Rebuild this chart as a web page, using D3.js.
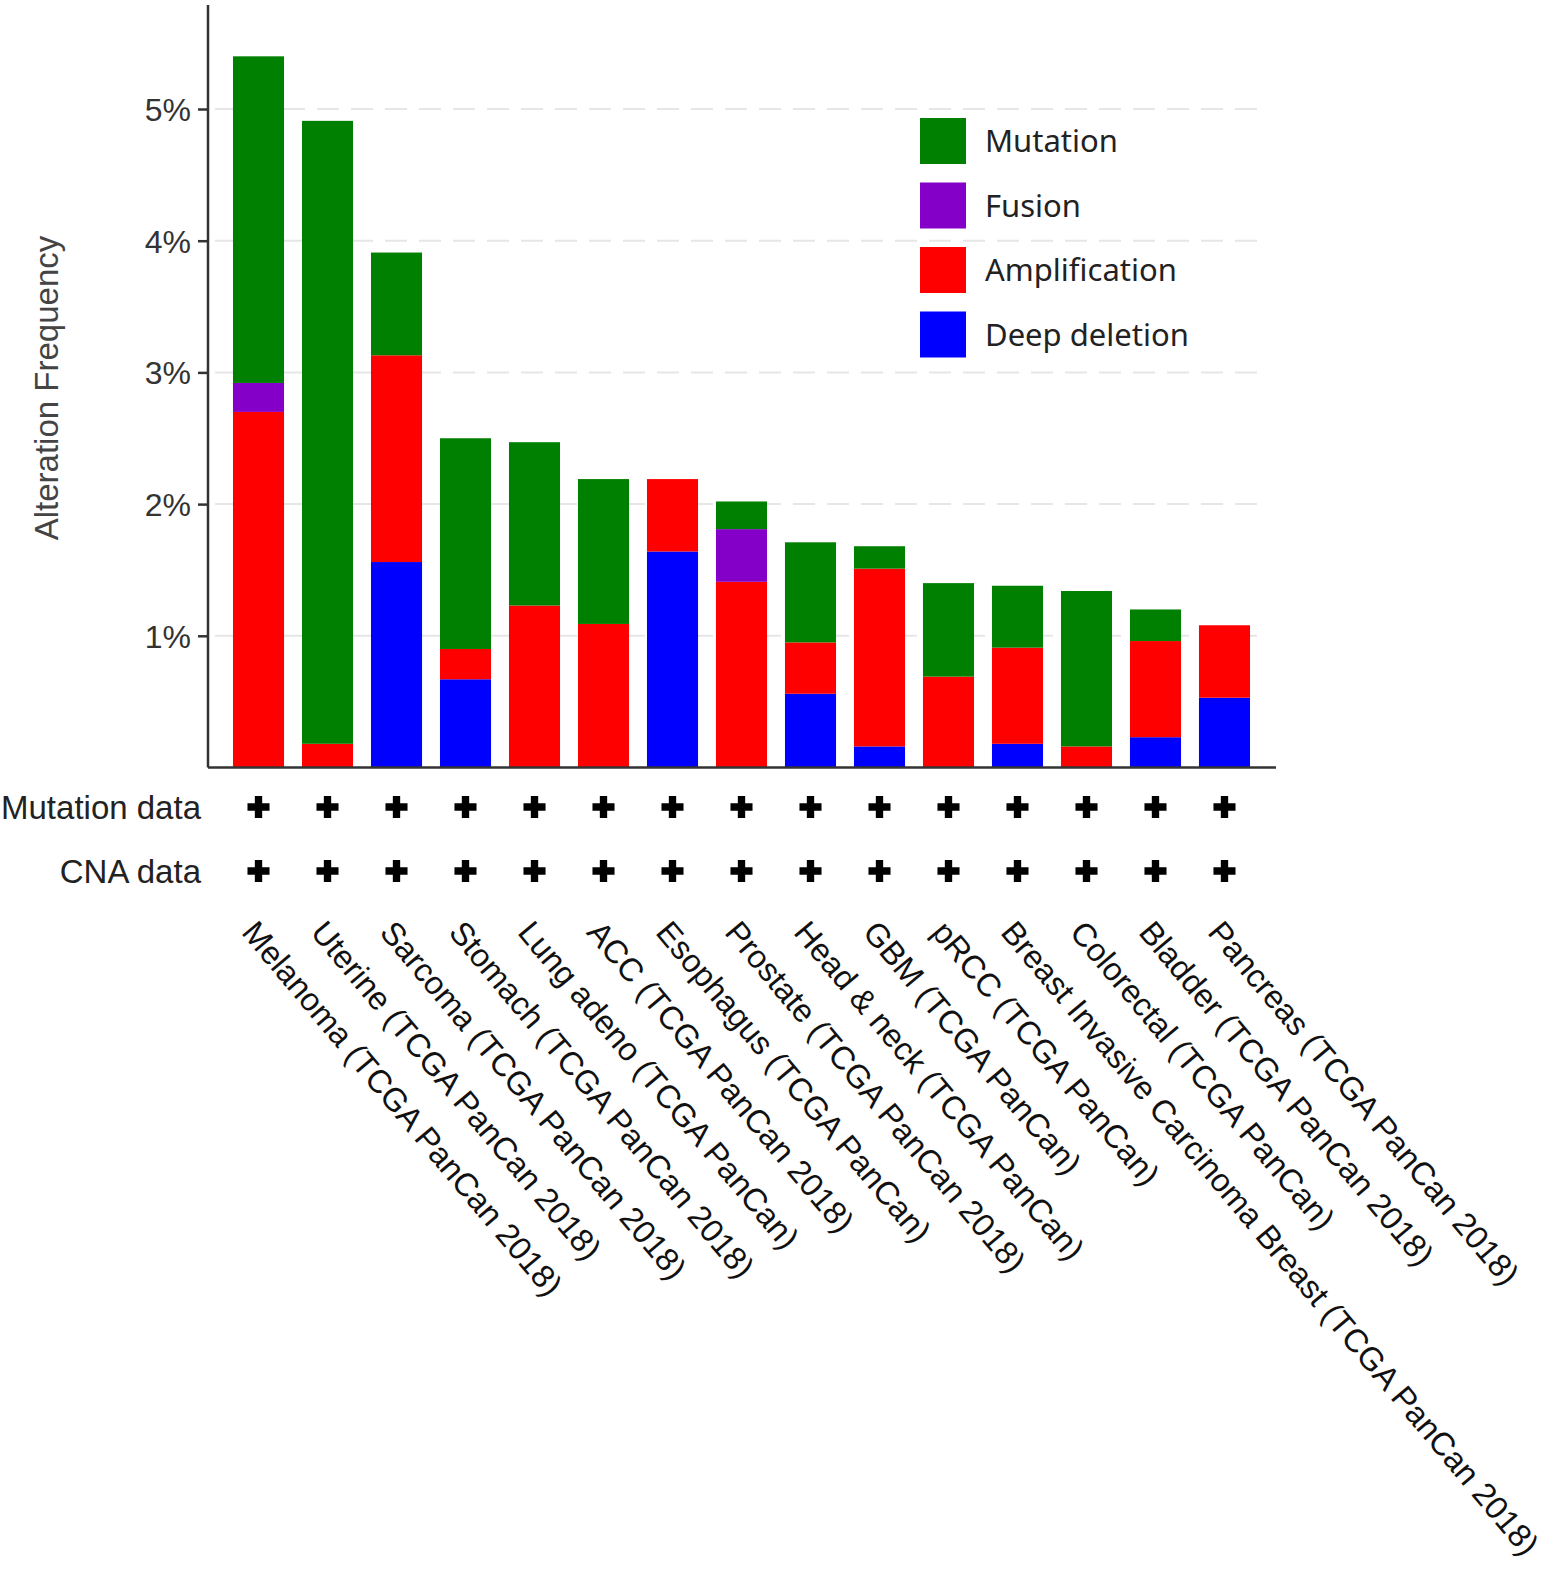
<!DOCTYPE html>
<html><head><meta charset="utf-8">
<script src="https://cdn.jsdelivr.net/npm/d3@7"></script>
<style>body{margin:0;background:#fff;} svg{display:block;}</style>
</head><body>
<svg id="chart" width="1546" height="1571"></svg>
<script>
const categories = ["Melanoma (TCGA PanCan 2018)","Uterine (TCGA PanCan 2018)","Sarcoma (TCGA PanCan 2018)","Stomach (TCGA PanCan 2018)","Lung adeno (TCGA PanCan)","ACC (TCGA PanCan 2018)","Esophagus (TCGA PanCan)","Prostate (TCGA PanCan 2018)","Head & neck (TCGA PanCan)","GBM (TCGA PanCan)","pRCC (TCGA PanCan)","Breast Invasive Carcinoma Breast (TCGA PanCan 2018)","Colorectal (TCGA PanCan)","Bladder (TCGA PanCan 2018)","Pancreas (TCGA PanCan 2018)"];
const deepDeletion = [0, 0, 1.56, 0.67, 0, 0, 1.64, 0, 0.56, 0.16, 0, 0.18, 0, 0.23, 0.53];
const amplification = [2.70, 0.18, 1.57, 0.23, 1.23, 1.09, 0.55, 1.41, 0.39, 1.35, 0.69, 0.73, 0.16, 0.73, 0.55];
const fusion = [0.22, 0, 0, 0, 0, 0, 0, 0.40, 0, 0, 0, 0, 0, 0, 0];
const mutation = [2.48, 4.73, 0.78, 1.60, 1.24, 1.10, 0, 0.21, 0.76, 0.17, 0.71, 0.47, 1.18, 0.24, 0];
const seriesNames = ["Deep deletion","Amplification","Fusion","Mutation"];
const seriesColors = ["#0000ff","#ff0000","#8400c8","#008000"];
const legendOrder = ["Mutation","Fusion","Amplification","Deep deletion"];
const yTicks = [1,2,3,4,5];
const rowLabels = ["Mutation data","CNA data"];

const svg = d3.select("#chart");
const axisFont = "'Liberation Sans', Arial, sans-serif";
const x = d3.scaleBand().domain(categories).range([208,1275]).paddingInner(0.26).paddingOuter(0.362);
const y = d3.scaleLinear().domain([0,5]).range([767.5,109]);

// gridlines
svg.append("g").selectAll("line").data(yTicks).join("line")
  .attr("x1",215).attr("x2",1265).attr("y1",d=>y(d)).attr("y2",d=>y(d))
  .attr("stroke","#e6e6e6").attr("stroke-width",2).attr("stroke-dasharray","22,12");

// stacked bars
const table = categories.map((c,i)=>({cat:c,"Deep deletion":deepDeletion[i],"Amplification":amplification[i],"Fusion":fusion[i],"Mutation":mutation[i]}));
const stack = d3.stack().keys(seriesNames)(table);
const color = d3.scaleOrdinal().domain(seriesNames).range(seriesColors);
svg.append("g").selectAll("g").data(stack).join("g").attr("fill",d=>color(d.key))
  .selectAll("rect").data(d=>d.filter(p=>p[1]-p[0]>0)).join("rect")
  .attr("x",d=>x(d.data.cat)).attr("width",x.bandwidth())
  .attr("y",d=>y(d[1])).attr("height",d=>y(d[0])-y(d[1]));

// y axis
const yAxis = d3.axisLeft(y).tickValues(yTicks).tickFormat(d=>d+"%").tickSize(10).tickSizeOuter(0);
const gy = svg.append("g").attr("transform","translate(208,0)").call(yAxis);
gy.select(".domain").remove();
gy.append("line").attr("x1",0).attr("x2",0).attr("y1",5).attr("y2",767.5).attr("stroke","#333").attr("stroke-width",2.5);
gy.selectAll(".tick line").attr("stroke","#333").attr("stroke-width",2.5);
gy.selectAll(".tick text").attr("font-family",axisFont).attr("font-size",32).attr("fill","#333").attr("x",-17).attr("dy","0.36em");

// x axis line
svg.append("line").attr("x1",208).attr("x2",1276).attr("y1",767.5).attr("y2",767.5).attr("stroke","#333").attr("stroke-width",2.5);

// y label
svg.append("text").attr("transform","translate(58,388) rotate(-90)").attr("text-anchor","middle")
  .attr("font-family",axisFont).attr("font-size",33).attr("fill","#444").text("Alteration Frequency");

// row labels and plus signs
const rowY = [807, 871];
rowLabels.forEach((lab,r)=>{
  svg.append("text").attr("x",201).attr("y",rowY[r]).attr("dy","0.36em").attr("text-anchor","end")
    .attr("font-family",axisFont).attr("font-size",33).attr("fill","#222").text(lab);
  svg.append("g").selectAll("path").data(categories).join("path")
    .attr("transform",d=>`translate(${x(d)+x.bandwidth()/2},${rowY[r]})`)
    .attr("d",d3.symbol(d3.symbolCross,270)).attr("fill","#000");
});

// category labels
svg.append("g").selectAll("text").data(categories).join("text")
  .attr("transform",d=>`translate(${x(d)+x.bandwidth()/2-18},${933}) rotate(50)`)
  .attr("font-family",axisFont).attr("font-size",32.4).attr("fill","#111").text(d=>d);

// legend
const lg = svg.append("g");
legendOrder.forEach((name,i)=>{
  const yy = 118 + i*64.5;
  lg.append("rect").attr("x",920).attr("y",yy).attr("width",46).attr("height",46).attr("fill",color(name));
  lg.append("text").attr("x",985).attr("y",yy+23).attr("dy","0.36em")
    .attr("font-family","'Noto Sans', 'Open Sans', sans-serif").attr("font-size",31).attr("fill","#222").text(name);
});
</script>
</body></html>
